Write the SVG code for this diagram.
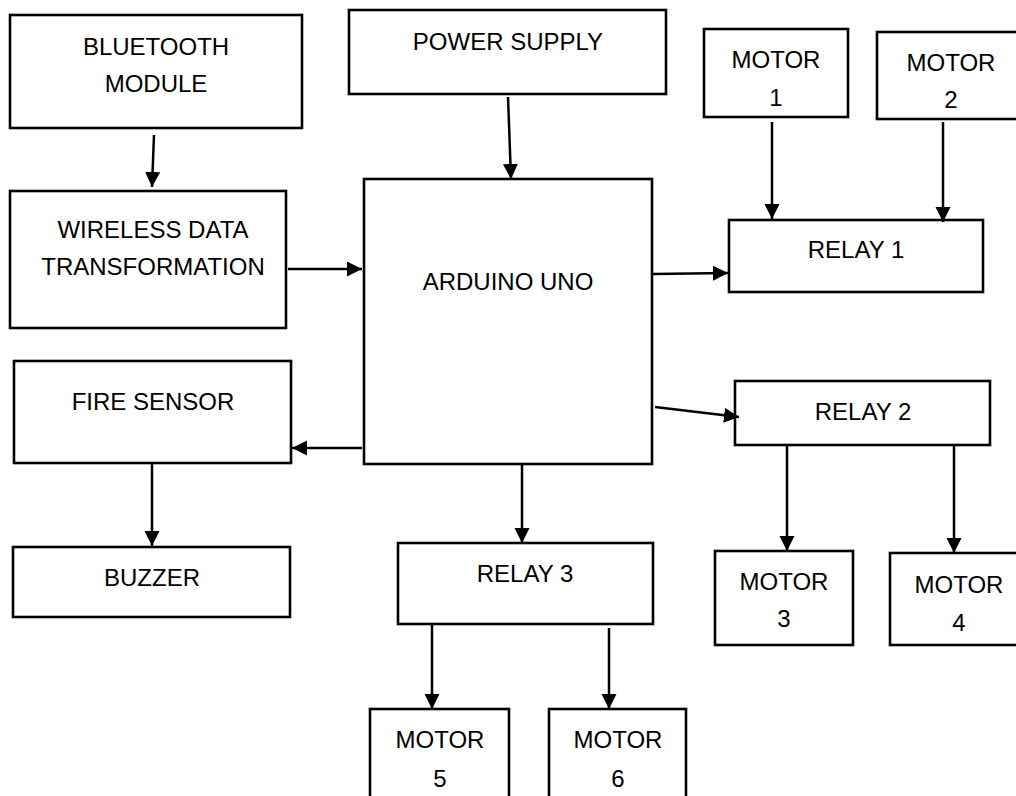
<svg xmlns="http://www.w3.org/2000/svg" width="1016" height="796" viewBox="0 0 1016 796">
<style>
.box{fill:#fff;stroke:#000;stroke-width:2.6}
.lbl{font-family:"Liberation Sans","Open Sans",Arial,sans-serif;font-size:24px;fill:#000;text-anchor:middle}
.con{stroke:#000;stroke-width:2.5;fill:none;marker-end:url(#ah)}
</style>
<defs>
<marker id="ah" markerUnits="userSpaceOnUse" markerWidth="16" markerHeight="16" refX="15" refY="7.5" orient="auto">
<path d="M0,0 L15,7.5 L0,15 z" fill="#000"/>
</marker>
</defs>
<rect width="1016" height="796" fill="#fff"/>
<g id="bluetooth"><rect class="box" x="10" y="15" width="292" height="113"/><text class="lbl" x="156" y="55">BLUETOOTH</text><text class="lbl" x="156" y="92">MODULE</text></g>
<g id="power"><rect class="box" x="349" y="10" width="317" height="84"/><text class="lbl" x="508" y="50">POWER SUPPLY</text></g>
<g id="motor1"><rect class="box" x="704" y="29" width="144" height="88"/><text class="lbl" x="776" y="68">MOTOR</text><text class="lbl" x="776" y="106">1</text></g>
<g id="motor2"><rect class="box" x="877" y="32" width="148" height="87"/><text class="lbl" x="951" y="71">MOTOR</text><text class="lbl" x="951" y="108">2</text></g>
<g id="wireless"><rect class="box" x="10" y="191" width="276" height="137"/><text class="lbl" x="153" y="238">WIRELESS DATA</text><text class="lbl" x="153" y="275">TRANSFORMATION</text></g>
<g id="arduino"><rect class="box" x="364" y="179" width="288" height="285"/><text class="lbl" x="508" y="290">ARDUINO UNO</text></g>
<g id="relay1"><rect class="box" x="729" y="220" width="254" height="72"/><text class="lbl" x="856" y="258">RELAY 1</text></g>
<g id="fire"><rect class="box" x="14" y="361" width="277" height="102"/><text class="lbl" x="153" y="410">FIRE SENSOR</text></g>
<g id="relay2"><rect class="box" x="735" y="381" width="255" height="64"/><text class="lbl" x="863" y="420">RELAY 2</text></g>
<g id="buzzer"><rect class="box" x="13" y="547" width="277" height="70"/><text class="lbl" x="152" y="586">BUZZER</text></g>
<g id="relay3"><rect class="box" x="398" y="543" width="255" height="81"/><text class="lbl" x="525" y="582">RELAY 3</text></g>
<g id="motor3"><rect class="box" x="715" y="551" width="138" height="94"/><text class="lbl" x="784" y="590">MOTOR</text><text class="lbl" x="784" y="627">3</text></g>
<g id="motor4"><rect class="box" x="890" y="553" width="140" height="92"/><text class="lbl" x="959" y="593">MOTOR</text><text class="lbl" x="959" y="631">4</text></g>
<g id="motor5"><rect class="box" x="370" y="709" width="139" height="100"/><text class="lbl" x="440" y="748">MOTOR</text><text class="lbl" x="440" y="787">5</text></g>
<g id="motor6"><rect class="box" x="549" y="709" width="137" height="100"/><text class="lbl" x="618" y="748">MOTOR</text><text class="lbl" x="618" y="787">6</text></g>
<g id="connectors">
<line class="con" x1="154" y1="135" x2="152" y2="187"/>
<line class="con" x1="508" y1="97" x2="511" y2="179"/>
<line class="con" x1="288" y1="269" x2="362" y2="269"/>
<line class="con" x1="653" y1="274" x2="728" y2="273"/>
<line class="con" x1="772" y1="122" x2="772" y2="219"/>
<line class="con" x1="943" y1="122" x2="943" y2="222"/>
<line class="con" x1="655" y1="407" x2="739" y2="417"/>
<line class="con" x1="362" y1="448" x2="292" y2="448"/>
<line class="con" x1="152" y1="463" x2="152" y2="546"/>
<line class="con" x1="522" y1="465" x2="522" y2="543"/>
<line class="con" x1="787" y1="445" x2="787" y2="551"/>
<line class="con" x1="954" y1="445" x2="954" y2="553"/>
<line class="con" x1="432" y1="624" x2="432" y2="709"/>
<line class="con" x1="609" y1="628" x2="609" y2="709"/>
</g>
</svg>
